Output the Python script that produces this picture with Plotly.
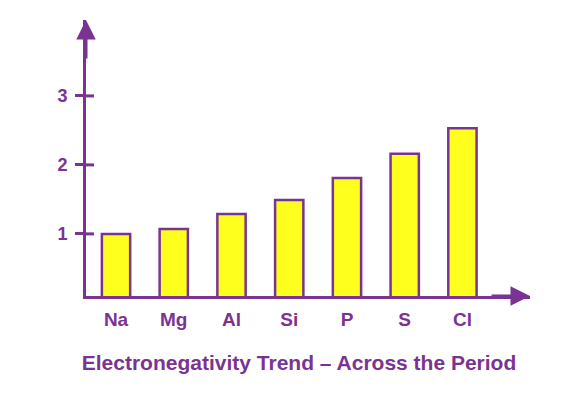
import plotly.graph_objects as go

elements = ["Na", "Mg", "Al", "Si", "P", "S", "Cl"]
electronegativity = [1.0, 1.07, 1.29, 1.49, 1.81, 2.16, 2.53]
y_tick_values = [1, 2, 3]
y_tick_labels = ["1", "2", "3"]
chart_title = "Electronegativity Trend – Across the Period"

PURPLE = "#7B3393"
YELLOW = "#FFFF1E"
FONT = "Liberation Sans, Arial, sans-serif"

fig = go.Figure(
    go.Bar(
        x=elements,
        y=electronegativity,
        width=0.49,
        marker=dict(color=YELLOW, line=dict(color=PURPLE, width=2.5)),
        hoverinfo="x+y",
    )
)

fig.update_layout(
    width=587,
    height=393,
    margin=dict(l=78, r=65, t=12, b=105),
    paper_bgcolor="white",
    plot_bgcolor="white",
    showlegend=False,
    font=dict(family=FONT, color=PURPLE, weight="bold"),
    title=dict(
        text=chart_title,
        x=291 / 587,
        xanchor="center",
        y=1 - 355 / 393,
        yanchor="middle",
        font=dict(size=21, family=FONT, color=PURPLE, weight="bold"),
    ),
)

fig.update_xaxes(
    type="category",
    range=[-0.52, 7.17],
    showline=True,
    linecolor=PURPLE,
    linewidth=3,
    showgrid=False,
    zeroline=False,
    ticks="",
    ticklabelstandoff=4,
    tickfont=dict(size=19, family=FONT, color=PURPLE, weight="bold"),
)

fig.update_yaxes(
    range=[0.1, 4.1],
    showline=True,
    linecolor=PURPLE,
    linewidth=3,
    showgrid=False,
    zeroline=False,
    tickmode="array",
    tickvals=y_tick_values,
    ticktext=y_tick_labels,
    ticks="outside",
    ticklen=8,
    tickwidth=3,
    tickcolor=PURPLE,
    ticklabelstandoff=4,
    tickfont=dict(size=18, family=FONT, color=PURPLE, weight="bold"),
)

# inner half of the crossing tick marks
for v in y_tick_values:
    fig.add_shape(
        type="line",
        xref="x domain",
        yref="y",
        xsizemode="pixel",
        xanchor=0,
        x0=0,
        x1=8,
        y0=v,
        y1=v,
        line=dict(color=PURPLE, width=3),
    )

# arrowheads on the axes
fig.add_annotation(
    xref="x domain", yref="y domain", x=0, y=1, ax=0, ay=40,
    text="", showarrow=True, arrowhead=2, arrowsize=1.3,
    arrowwidth=3, arrowcolor=PURPLE,
)
fig.add_annotation(
    xref="x domain", yref="y domain", x=1, y=0, ax=-40, ay=0,
    text="", showarrow=True, arrowhead=2, arrowsize=1.3,
    arrowwidth=3, arrowcolor=PURPLE,
)

fig.write_html("out.html")
